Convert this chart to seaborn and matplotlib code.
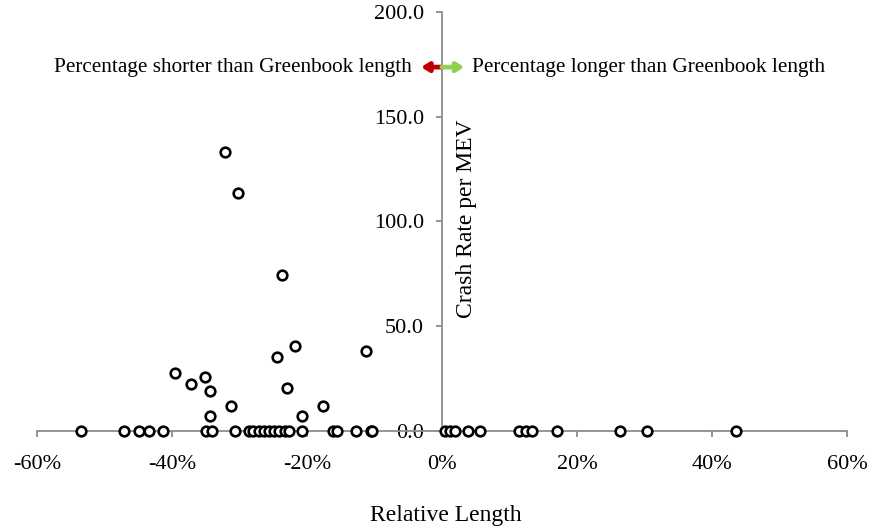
import matplotlib
matplotlib.use("Agg")
import matplotlib.pyplot as plt
import seaborn as sns
import pandas as pd
from matplotlib.ticker import FuncFormatter

# Relative length (%) and crash rate per MEV
zero_lengths = [-53.5, -47.1, -44.9, -43.4, -41.3, -35.0, -34.1, -30.6, -28.6, -28.0,
                -27.1, -26.4, -25.6, -24.9, -24.2, -23.3, -22.7, -20.8, -16.2, -15.5,
                -12.8, -10.5, -10.3, 0.5, 1.2, 2.0, 3.8, 5.6, 11.4, 12.4, 13.3, 17.1,
                26.4, 30.4, 43.5]
nonzero_lengths = [-39.6, -37.2, -35.1, -34.3, -34.4, -31.3, -32.1, -30.2, -24.5, -23.7,
                   -21.8, -23.0, -20.7, -17.7, -11.2]
nonzero_rates = [27.5, 22.4, 25.9, 19.1, 7.2, 11.9, 133.3, 113.5, 35.5, 74.6,
                 40.6, 20.4, 7.2, 11.9, 38.0]

x_ticks = [-60, -40, -20, 0, 20, 40, 60]
y_ticks = [0, 50, 100, 150, 200]

rel_length = zero_lengths + nonzero_lengths
crash_rate = [0.0] * len(zero_lengths) + nonzero_rates
df = pd.DataFrame({"Relative Length": rel_length, "Crash Rate per MEV": crash_rate})

sns.set_theme(style="white")
plt.rcParams['font.family'] = ['Liberation Serif', 'DejaVu Serif']
plt.rcParams['text.color'] = 'black'

fig = plt.figure(figsize=(8.7, 5.29), dpi=100)
ax = fig.add_axes([37/870, 1 - 431/529, 810/870, 419/529])

axis_gray = "#8c8c8c"
sns.scatterplot(data=df, x="Relative Length", y="Crash Rate per MEV", ax=ax,
                marker="o", s=48, facecolor="white", edgecolor="black",
                linewidth=1.9, clip_on=False, zorder=5)

ax.set_xlim(-60, 60)
ax.set_ylim(0, 200)
ax.set_xticks(x_ticks)
ax.set_yticks(y_ticks)
ax.xaxis.set_major_formatter(FuncFormatter(lambda v, p: f"{v:.0f}%"))
ax.yaxis.set_major_formatter(FuncFormatter(lambda v, p: f"{v:.1f}"))

for s in ["top", "right"]:
    ax.spines[s].set_visible(False)
ax.spines["left"].set_position(("data", 0))
ax.spines["left"].set_color(axis_gray)
ax.spines["bottom"].set_color(axis_gray)
ax.spines["left"].set_linewidth(1.3)
ax.spines["bottom"].set_linewidth(1.3)
ax.spines["left"].set_zorder(1)
ax.spines["bottom"].set_zorder(1)

ax.tick_params(axis="x", direction="out", length=4.5, width=1.3, color=axis_gray,
               pad=12.5, labelsize=16, labelcolor="black", bottom=True)
ax.tick_params(axis="y", direction="out", length=4.5, width=1.3, color=axis_gray,
               pad=8.5, labelsize=16, labelcolor="black", left=True)

ax.set_xlabel("")
ax.set_ylabel("Crash Rate per MEV", fontsize=17, color="black")
ax.yaxis.set_label_coords((467 - 37) / 810, (431 - 219) / 419)
ax.yaxis.label.set_va("center")
fig.text(446 / 870, 1 - 515 / 529, "Relative Length", fontsize=17, ha="center",
         va="center", color="black")

# direction arrows
arrow_y = 173.7
ax.annotate("", xy=(-3.1, arrow_y), xytext=(0, arrow_y),
            arrowprops=dict(arrowstyle="-|>,head_length=0.35,head_width=0.22",
                            color="#C00000", lw=3.4, shrinkA=0, shrinkB=0))
ax.annotate("", xy=(3.3, arrow_y), xytext=(0, arrow_y),
            arrowprops=dict(arrowstyle="-|>,head_length=0.35,head_width=0.22",
                            color="#92D050", lw=3.4, shrinkA=0, shrinkB=0))
ax.text(-4.45, arrow_y, "Percentage shorter than Greenbook length", fontsize=15.3,
        ha="right", va="center", color="black")
ax.text(4.45, arrow_y, "Percentage longer than Greenbook length", fontsize=15.3,
        ha="left", va="center", color="black")

fig.savefig("out.png", dpi=100)
